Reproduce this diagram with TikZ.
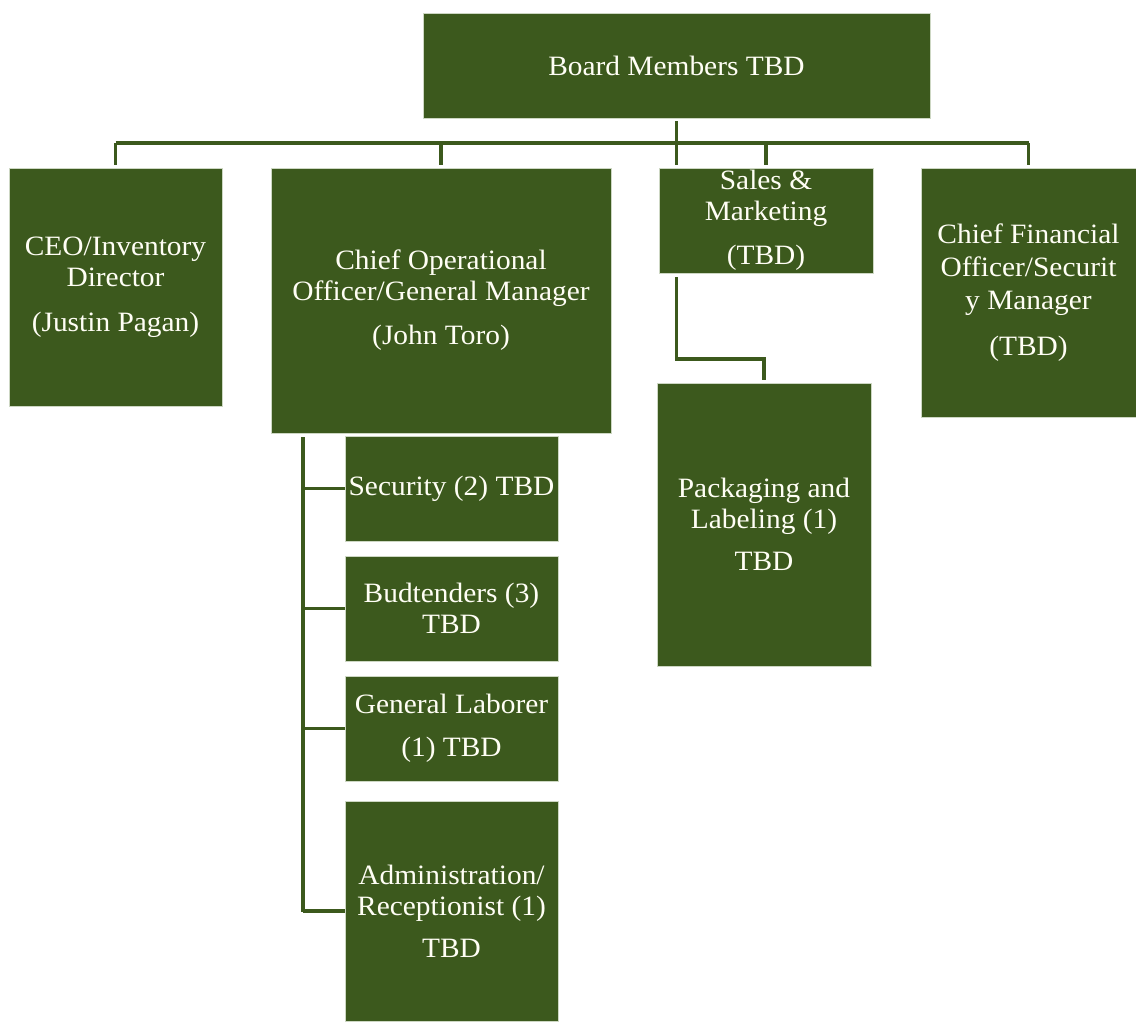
\documentclass[tikz,border=0pt]{standalone}
\usepackage{fontspec}
\setmainfont{Liberation Serif}[FakeStretch=1.05]
\definecolor{ogreen}{RGB}{60,89,29}
\definecolor{oline}{RGB}{205,215,195}
\begin{document}
\begin{tikzpicture}[x=1pt,y=-1pt,
  box/.style={fill=ogreen, draw=oline, line width=0.8pt, text=white!96!yellow, align=center,
    inner sep=0pt, outer sep=0pt, font=\fontsize{28}{31}\selectfont},
  conn/.style={draw=ogreen, line width=3.2pt}]
\useasboundingbox (0,0) rectangle (1136,1021);
% boxes
\node[box, minimum width=507pt, minimum height=105pt] (board) at (676.5,65.5) {Board Members TBD};
\node[box, minimum width=213pt, minimum height=238pt] (ceo) at (115.5,287) {CEO/Inventory\\Director\\[14pt](Justin Pagan)};
\node[box, minimum width=340pt, minimum height=265pt] (coo) at (441,300.5) {Chief Operational\\Officer/General Manager\\[13pt](John Toro)};
\node[box, minimum width=214pt, minimum height=105pt] (sales) at (766,220.5) {Sales \&\\Marketing\\[13pt](TBD)};
\node[box, minimum width=215pt, minimum height=249pt] (cfo) at (1028.5,292.5) {Chief Financial\\[2pt]Officer/Securit\\[2pt]y Manager\\[15pt](TBD)};
\node[box, minimum width=214pt, minimum height=283pt] (pkg) at (764,524.5) {Packaging and\\Labeling (1)\\[11pt]TBD};
\node[box, minimum width=213pt, minimum height=105pt] (sec) at (451.5,488.5) {Security (2) TBD};
\node[box, minimum width=213pt, minimum height=105pt] (bud) at (451.5,608.5) {Budtenders (3)\\TBD};
\node[box, minimum width=213pt, minimum height=105pt] (lab) at (451.5,728.5) {General Laborer\\[12pt](1) TBD};
\node[box, minimum width=213pt, minimum height=220pt] (adm) at (451.5,911) {Administration/\\Receptionist (1)\\[11pt]TBD};
% helper coordinates
\coordinate (bus) at (676.5,143);
\coordinate (jog) at (676.5,359);
\coordinate (spine) at (303,437);
\coordinate (spineend) at (303,912);
% connectors
\draw[conn, shorten <=3pt, shorten >=3pt] (board.south) -- (board.south |- sales.north);
\draw[conn, shorten >=3pt] (ceo.north |- bus) -- (ceo.north);
\draw[conn] (ceo.north |- bus) -- (cfo.north |- bus);
\draw[conn, shorten >=3pt] (coo.north |- bus) -- (coo.north);
\draw[conn, shorten >=3pt] (sales.north |- bus) -- (sales.north);
\draw[conn, shorten >=3pt] (cfo.north |- bus) -- (cfo.north);
\draw[conn, shorten <=4pt, shorten >=3pt] (board.south |- sales.south) -- (jog) -| (pkg.north);
\draw[conn] (spine) -- (spineend);
\draw[conn] (spine |- sec.west) -- (sec.west);
\draw[conn] (spine |- bud.west) -- (bud.west);
\draw[conn] (spine |- lab.west) -- (lab.west);
\draw[conn] (spine |- adm.west) -- (adm.west);
\end{tikzpicture}
\end{document}
